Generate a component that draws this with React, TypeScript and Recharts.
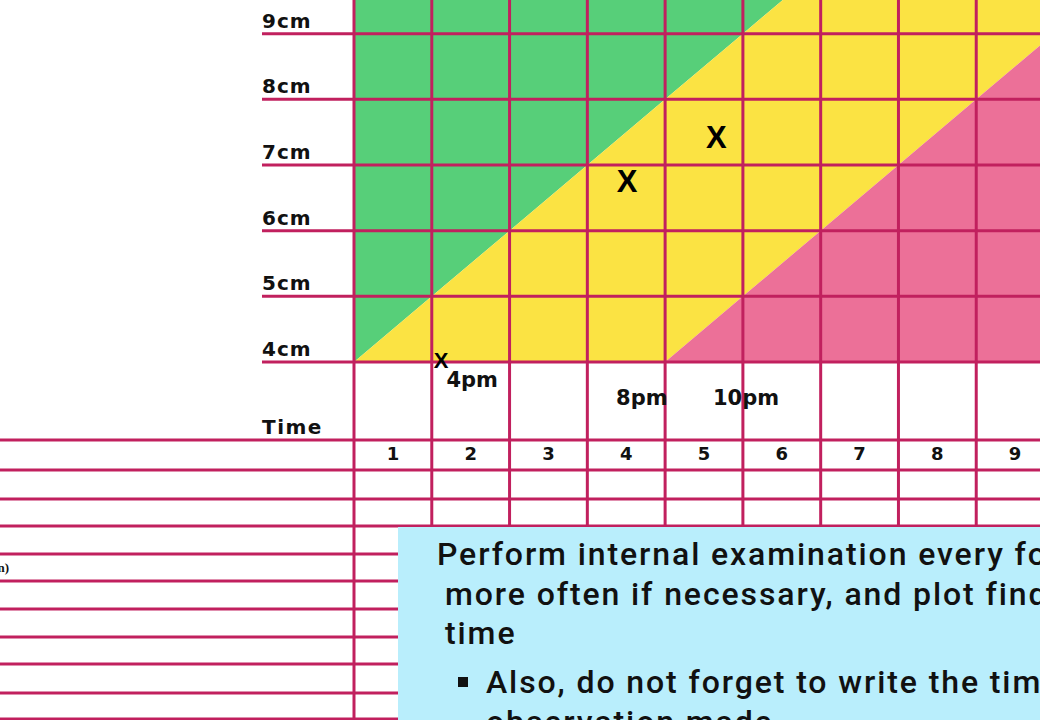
import React from "react";
import {
  Area,
  ComposedChart,
  ReferenceLine,
  Scatter,
  XAxis,
  YAxis,
} from "recharts";

// hours since the start of the active phase, one column per hour
const hours = [0, 1, 2, 3, 4, 5, 6, 7, 8, 9];
// alert line: 1 cm per hour from 4 cm; action line: the same, 4 hours later
const alertLine = [4, 5, 6, 7, 8, 9, 10, 10, 10, 10];
const actionLine = [4, 4, 4, 4, 4, 5, 6, 7, 8, 9];

const dilationTicks = [4, 5, 6, 7, 8, 9, 10];
const hourTicks = [0.5, 1.5, 2.5, 3.5, 4.5, 5.5, 6.5, 7.5, 8.5];
const hourLabels = ["1", "2", "3", "4", "5", "6", "7", "8", "9"];

// cervical dilation found at each internal examination
const examHours = [1.12, 3.51, 4.66];
const examCm = [4.03, 6.76, 7.43];

// time written under the chart for each examination
const timeNotes = ["4pm", "8pm", "10pm"];
const timeNoteHours = [1.52, 3.7, 5.04];
const timeNoteCm = [3.73, 3.47, 3.47];

const tableRows = [440, 470, 499, 526, 554, 581, 609, 637, 664, 693, 719];

const noteLines = [
  "Perform internal examination every four hours, or",
  "more often if necessary, and plot findings against",
  "time",
];
const bulletLines = ["Also, do not forget to write the time of", "observation made"];

const LINE = "#c1205e";
const GREEN = "#57cf79";
const YELLOW = "#fbe343";
const PINK = "#ec7098";
const BOX = "#b9eefc";

const PAGE_W = 1040;
const PAGE_H = 720;
const GRID_LEFT = 354;
const COL_W = 77.78;
const CM_H = 65.67;
const CHART_TOP = 362 - 6 * CM_H; // where 10 cm sits
const CHART_W = GRID_LEFT + 9 * COL_W;
const CHART_H = PAGE_H - CHART_TOP;
const Y_MIN = 10 - CHART_H / CM_H;

const zones = hours.map((t, i) => ({
  t,
  green: [alertLine[i], 10],
  yellow: [actionLine[i], alertLine[i]],
  pink: [4, actionLine[i]],
}));

const exams = examHours.map((t, i) => ({ t, cm: examCm[i], n: i }));
const notes = timeNoteHours.map((t, i) => ({ t, cm: timeNoteCm[i], label: timeNotes[i] }));

const labelFont = {
  fontFamily: "DejaVu Sans",
  fontWeight: 700,
  fill: "#111",
} as const;

function CmTick(props: any) {
  const { x, y, payload } = props;
  return (
    <g>
      <line x1={x - 92} x2={x} y1={y} y2={y} stroke={LINE} strokeWidth={3} />
      {payload.value < 10 && (
        <text x={x - 92} y={y - 6} fontSize={20} letterSpacing={1} {...labelFont}>
          {payload.value}cm
        </text>
      )}
    </g>
  );
}

function HourTick(props: any) {
  const { x, payload } = props;
  const i = hourTicks.indexOf(payload.value);
  return (
    <text x={x} y={460 - CHART_TOP} textAnchor="middle" fontSize={18} {...labelFont}>
      {hourLabels[i]}
    </text>
  );
}

function ExamMark(props: any) {
  const { cx, cy, payload } = props;
  const fs = payload.n === 0 ? 22 : 31;
  return (
    <text
      x={cx}
      y={cy + fs * 0.36}
      textAnchor="middle"
      fontSize={fs}
      fontFamily="Liberation Sans"
      fontWeight={700}
      fill="#000"
    >
      X
    </text>
  );
}

function TimeNote(props: any) {
  const { cx, cy, payload } = props;
  return (
    <text x={cx} y={cy + 7.7} textAnchor="middle" fontSize={21} {...labelFont}>
      {payload.label}
    </text>
  );
}

export default function App() {
  return (
    <div
      style={{
        position: "absolute",
        left: 0,
        top: 0,
        width: PAGE_W,
        height: PAGE_H,
        overflow: "hidden",
        background: "#fff",
      }}
    >
      <svg
        width={PAGE_W}
        height={PAGE_H}
        style={{ position: "absolute", left: 0, top: 0 }}
      >
        {tableRows.map((y) => (
          <line key={y} x1={0} x2={PAGE_W} y1={y} y2={y} stroke={LINE} strokeWidth={3} />
        ))}
        <text x={262} y={434} fontSize={20} letterSpacing={1.5} {...labelFont}>
          Time
        </text>
        <text
          x={9}
          y={572}
          textAnchor="end"
          fontSize={13}
          fontFamily="Liberation Serif"
          fontWeight={700}
          fill="#111"
        >
          n)
        </text>
      </svg>

      <div style={{ position: "absolute", left: 0, top: CHART_TOP }}>
        <ComposedChart
          width={CHART_W}
          height={CHART_H}
          data={zones}
          margin={{ top: 0, right: 0, bottom: 0, left: 0 }}
        >
          <XAxis
            type="number"
            dataKey="t"
            domain={[0, 9]}
            allowDataOverflow
            ticks={hourTicks}
            mirror
            axisLine={false}
            tickLine={false}
            tick={<HourTick />}
          />
          <YAxis
            type="number"
            dataKey="cm"
            domain={[Y_MIN, 10]}
            allowDataOverflow
            ticks={dilationTicks}
            width={GRID_LEFT}
            axisLine={false}
            tickLine={false}
            tickSize={0}
            tickMargin={0}
            tick={<CmTick />}
          />
          <Area
            type="linear"
            dataKey="green"
            stroke="none"
            fill={GREEN}
            fillOpacity={1}
            dot={false}
            activeDot={false}
            isAnimationActive={false}
          />
          <Area
            type="linear"
            dataKey="yellow"
            stroke="none"
            fill={YELLOW}
            fillOpacity={1}
            dot={false}
            activeDot={false}
            isAnimationActive={false}
          />
          <Area
            type="linear"
            dataKey="pink"
            stroke="none"
            fill={PINK}
            fillOpacity={1}
            dot={false}
            activeDot={false}
            isAnimationActive={false}
          />
          {dilationTicks.map((c) => (
            <ReferenceLine key={"h" + c} y={c} stroke={LINE} strokeWidth={3} />
          ))}
          {hours.map((h) => (
            <ReferenceLine key={"v" + h} x={h} stroke={LINE} strokeWidth={3} />
          ))}
          <Scatter data={exams} shape={<ExamMark />} isAnimationActive={false} />
          <Scatter data={notes} shape={<TimeNote />} isAnimationActive={false} />
        </ComposedChart>
      </div>

      <div
        style={{
          position: "absolute",
          left: 398,
          top: 527,
          width: PAGE_W - 398,
          height: PAGE_H - 527,
          background: BOX,
        }}
      >
        <svg width={PAGE_W - 398} height={PAGE_H - 527}>
          <g
            transform="translate(-398,-527)"
            fontFamily="Roboto"
            fontWeight={500}
            fontSize={32}
            letterSpacing={1.9}
            fill="#111"
          >
            <text x={437} y={565}>{noteLines[0]}</text>
            <text x={445} y={605}>{noteLines[1]}</text>
            <text x={445} y={644}>{noteLines[2]}</text>
            <rect x={458} y={677} width={10} height={10} fill="#111" />
            <text x={486} y={693}>{bulletLines[0]}</text>
            <text x={486} y={733}>{bulletLines[1]}</text>
          </g>
        </svg>
      </div>
    </div>
  );
}
